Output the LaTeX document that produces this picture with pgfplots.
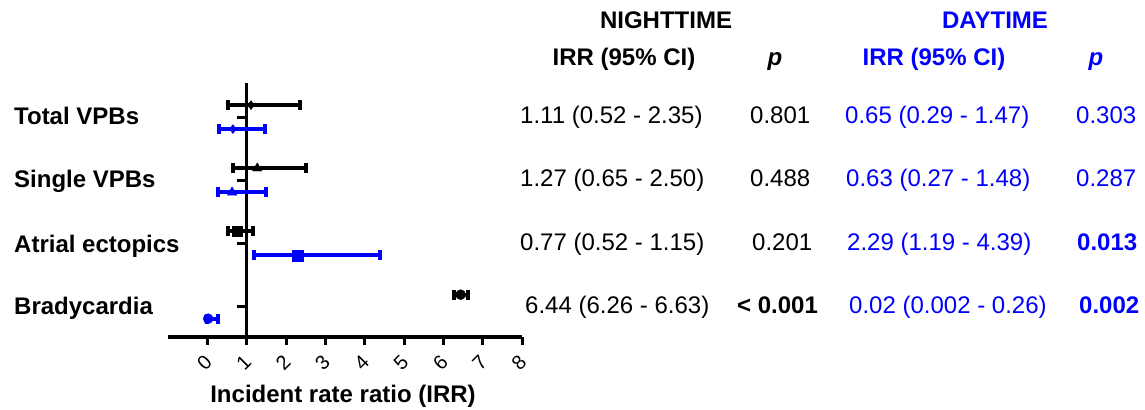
\documentclass[border=0pt]{standalone}
\usepackage{fontspec}
\setmainfont{Liberation Sans}
\usepackage{pgfplots}
\pgfplotsset{compat=1.18}
\definecolor{dblue}{RGB}{0,0,255}
\begin{document}
\fontsize{24bp}{28bp}\selectfont
\begin{tikzpicture}[x=1bp,y=1bp]
\useasboundingbox (0,0) rectangle (1145,409);
\begin{axis}[at={(168bp,72bp)}, anchor=south west, scale only axis,
  width=354bp, height=254bp,
  xmin=-1, xmax=8, ymin=0.52, ymax=4.54,
  axis x line*=bottom, axis y line=none,
  xtick={0,1,2,3,4,5,6,7,8},
  tick align=outside, major tick length=8bp,
  axis line style={line width=3.2bp},
  every tick/.style={line width=3bp, black},
  xticklabel style={xshift=-3bp, yshift=-18bp, rotate=45, anchor=center, font=\fontsize{20bp}{24bp}\selectfont},
  /pgf/number format/assume math mode=true,
  clip=false,
  error bars/error bar style={line width=4bp},
  error bars/error mark=|,
  error bars/error mark options={line width=4bp, mark size=5bp},
]
% y axis line at x = 1
\addplot[black, line width=3.2bp, no marks, forget plot] coordinates {(1,0.52) (1,4.54)};
\draw[line width=3bp] (axis cs:1,1) -- ([xshift=-10bp]axis cs:1,1);
\draw[line width=3bp] (axis cs:1,2) -- ([xshift=-10bp]axis cs:1,2);
\draw[line width=3bp] (axis cs:1,3) -- ([xshift=-10bp]axis cs:1,3);
\draw[line width=3bp] (axis cs:1,4) -- ([xshift=-10bp]axis cs:1,4);
% NIGHTTIME (black)
\addplot[black, mark=diamond*, mark size=4.5bp, error bars/.cd, x dir=both, x explicit]
  coordinates {(1.11,4.19) += (1.24,0) -= (0.59,0)};
\addplot[black, mark=triangle*, mark size=5.5bp, error bars/.cd, x dir=both, x explicit]
  coordinates {(1.27,3.19) += (1.23,0) -= (0.62,0)};
\addplot[black, mark=square*, mark size=5bp, error bars/.cd, x dir=both, x explicit]
  coordinates {(0.77,2.19) += (0.38,0) -= (0.25,0)};
\addplot[black, mark=*, mark size=5bp, error bars/.cd, x dir=both, x explicit]
  coordinates {(6.44,1.19) += (0.19,0) -= (0.18,0)};
% DAYTIME (blue)
\addplot[dblue, mark=diamond*, mark size=4.5bp, error bars/.cd, x dir=both, x explicit]
  coordinates {(0.65,3.81) += (0.82,0) -= (0.36,0)};
\addplot[dblue, mark=triangle*, mark size=5.5bp, error bars/.cd, x dir=both, x explicit]
  coordinates {(0.63,2.81) += (0.85,0) -= (0.36,0)};
\addplot[dblue, mark=square*, mark size=5.5bp, error bars/.cd, x dir=both, x explicit]
  coordinates {(2.29,1.81) += (2.10,0) -= (1.10,0)};
\addplot[dblue, mark=*, mark size=5bp, error bars/.cd, x dir=both, x explicit]
  coordinates {(0.02,0.81) += (0.24,0) -= (0.018,0)};
\end{axis}
% category labels
\begin{scope}[every node/.style={anchor=base west, inner sep=0pt, font=\bfseries}]
\node at (14,284.8) {Total VPBs};
\node at (14,221.8) {Single VPBs};
\node at (14,156.8) {Atrial ectopics};
\node at (14,94.8) {Bradycardia};
\end{scope}
% x label
\node[anchor=base, inner sep=0pt, font=\bfseries] at (343,7) {Incident rate ratio (IRR)};
% headers
\begin{scope}[every node/.style={anchor=base, inner sep=0pt, font=\bfseries}]
\node at (666,380.8) {NIGHTTIME};
\node[text=dblue] at (995,380.8) {DAYTIME};
\node at (624,343.8) {IRR (95\% CI)};
\node at (775,343.8) {\itshape p};
\node[text=dblue] at (934,343.8) {IRR (95\% CI)};
\node[text=dblue] at (1096,343.8) {\itshape p};
\end{scope}
% table rows
\begin{scope}[every node/.style={anchor=base west, inner sep=0pt}]
\node at (520,285.8) {1.11 (0.52 - 2.35)};
\node at (750,285.8) {0.801};
\node[text=dblue] at (845,285.8) {0.65 (0.29 - 1.47)};
\node[text=dblue] at (1076,285.8) {0.303};
\node at (520,222.8) {1.27 (0.65 - 2.50)};
\node at (750,222.8) {0.488};
\node[text=dblue] at (846,222.8) {0.63 (0.27 - 1.48)};
\node[text=dblue] at (1076,222.8) {0.287};
\node at (520,158.8) {0.77 (0.52 - 1.15)};
\node at (752,158.8) {0.201};
\node[text=dblue] at (847,158.8) {2.29 (1.19 - 4.39)};
\node[text=dblue, font=\bfseries] at (1077,158.8) {0.013};
\node at (525,95.8) {6.44 (6.26 - 6.63)};
\node[font=\bfseries] at (737,95.8) {< 0.001};
\node[text=dblue] at (849,95.8) {0.02 (0.002 - 0.26)};
\node[text=dblue, font=\bfseries] at (1079,95.8) {0.002};
\end{scope}
\end{tikzpicture}
\end{document}
